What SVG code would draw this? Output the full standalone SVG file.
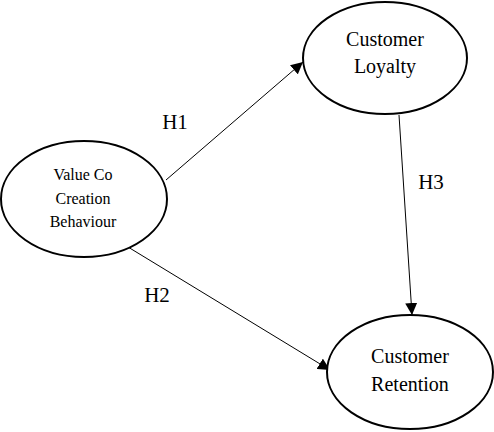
<svg xmlns="http://www.w3.org/2000/svg" width="494" height="432" viewBox="0 0 494 432">
<defs>
<style>
.node{fill:#fff;stroke:#000;stroke-width:2}
.lbl{font-family:"Liberation Serif","Times New Roman",serif;fill:#000;text-anchor:middle}
.edge{stroke:#000;stroke-width:1;fill:none;marker-end:url(#arr)}
</style>
<marker id="arr" viewBox="0 0 10 10" refX="10" refY="5" markerWidth="12" markerHeight="12" markerUnits="userSpaceOnUse" orient="auto">
<path d="M0,0 L10,5 L0,10 z" fill="#000"/>
</marker>
</defs>
<rect width="494" height="432" fill="#fff"/>
<g id="connectors">
<line class="edge" x1="166" y1="180" x2="303" y2="62"/>
<line class="edge" x1="128" y1="247" x2="330" y2="370"/>
<line class="edge" x1="399" y1="115" x2="412" y2="315"/>
<text class="lbl" x="175" y="129" font-size="21">H1</text>
<text class="lbl" x="157" y="302" font-size="21">H2</text>
<text class="lbl" x="431" y="189" font-size="21">H3</text>
</g>
<g id="value-co-creation">
<ellipse class="node" cx="84" cy="199" rx="83" ry="58"/>
<text class="lbl" x="83" y="180" font-size="16">Value Co</text>
<text class="lbl" x="83" y="204" font-size="16">Creation</text>
<text class="lbl" x="83" y="227" font-size="16">Behaviour</text>
</g>
<g id="customer-loyalty">
<ellipse class="node" cx="385" cy="58" rx="82" ry="56"/>
<text class="lbl" x="385" y="46" font-size="20">Customer</text>
<text class="lbl" x="385" y="73" font-size="20">Loyalty</text>
</g>
<g id="customer-retention">
<ellipse class="node" cx="410" cy="372" rx="83" ry="57"/>
<text class="lbl" x="410" y="363" font-size="20">Customer</text>
<text class="lbl" x="410" y="391" font-size="20">Retention</text>
</g>
</svg>
